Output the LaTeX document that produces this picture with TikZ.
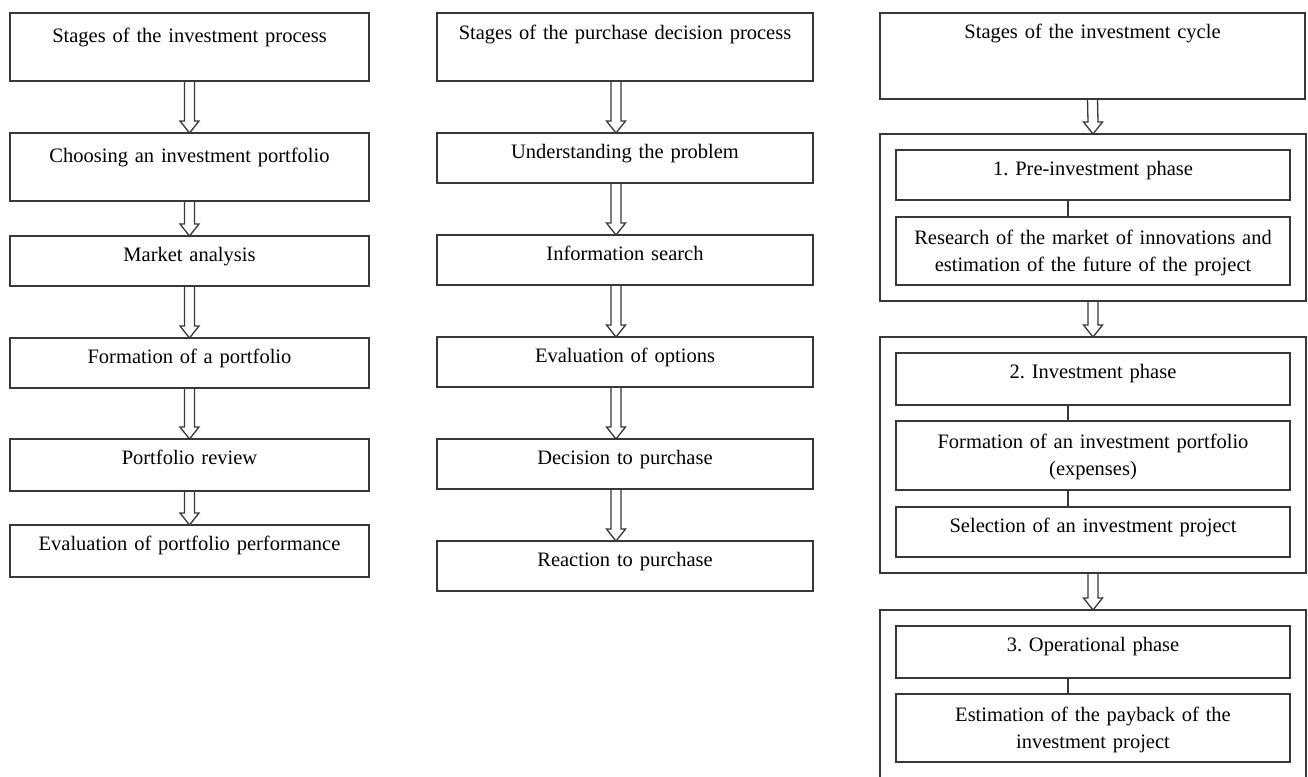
\documentclass[tikz,border=0pt]{standalone}
\usepackage{fontspec}
\setmainfont{Liberation Serif}
\usepackage{tikz}
\usetikzlibrary{positioning,fit}

\definecolor{boxgray}{HTML}{383838}
\newcommand\stagefont{\fontsize{20.5}{27}\selectfont\frenchspacing\spaceskip=0.2em plus 0.1em minus 0.05em\relax}
\tikzset{
  stage/.style={draw=boxgray,line width=1.4pt,outer sep=0pt,inner xsep=0pt,inner ysep=0pt,
    align=center,text=black,font=\stagefont},
  tall/.style={text height=29pt,text depth=39pt},
  short/.style={text height=25pt,text depth=25pt},
  twoline/.style={text height=27pt,text depth=41pt},
  frame/.style={draw=boxgray,line width=1.4pt,outer sep=0pt,inner sep=16pt},
  link/.style={draw=boxgray,line width=1.3pt}
}
% hollow block arrow from the bottom of #2 to the top of #3, shifted by #1
\newcommand\openarrow[3][0pt]{%
  \draw[link] ([xshift=#1-5pt]#2.south) -- ([xshift=#1-5pt,yshift=12pt]#3.north)
    -- ++(-4.5pt,0) -- ([xshift=#1]#3.north) -- ++(9.5pt,12pt) -- ++(-4.5pt,0)
    -- ([xshift=#1+5pt]#2.south);
}

\begin{document}
\begin{tikzpicture}[x=1pt,y=-1pt]
  \clip (0,0) rectangle (1308,776);
  \fill[white] (0,0) rectangle (1308,776);

  % investment process
  \node[stage,tall,text width=359pt,anchor=north] (proc1) at (189.5,13) {Stages of the investment process};
  \node[stage,tall,text width=359pt,below=52pt of proc1] (proc2) {Choosing an investment portfolio};
  \node[stage,short,text width=359pt,below=35pt of proc2] (proc3) {Market analysis};
  \node[stage,short,text width=359pt,below=52pt of proc3] (proc4) {Formation of a portfolio};
  \node[stage,short,text depth=27pt,text width=359pt,below=51pt of proc4] (proc5) {Portfolio review};
  \node[stage,short,text depth=27pt,text width=359pt,below=34pt of proc5] (proc6) {Evaluation of portfolio performance};
  \foreach \a/\b in {proc1/proc2,proc2/proc3,proc3/proc4,proc4/proc5,proc5/proc6}
    \openarrow{\a}{\b};

  % purchase decision process
  \begin{scope}[node distance=52pt]
    \node[stage,tall,text height=27pt,text depth=41pt,text width=376pt,anchor=north] (buy1) at (625,13) {Stages of the purchase decision process};
    \node[stage,short,text width=376pt,below=of buy1] (buy2) {Understanding the problem};
    \node[stage,short,text width=376pt,below=of buy2] (buy3) {Information search};
    \node[stage,short,text width=376pt,below=of buy3] (buy4) {Evaluation of options};
    \node[stage,short,text width=376pt,below=of buy4] (buy5) {Decision to purchase};
    \node[stage,short,text width=376pt,below=of buy5] (buy6) {Reaction to purchase};
  \end{scope}
  \foreach \a/\b in {buy1/buy2,buy2/buy3,buy3/buy4,buy4/buy5,buy5/buy6}
    \openarrow[-9pt]{\a}{\b};

  % investment cycle
  \node[stage,text height=26pt,text depth=60pt,text width=425pt,anchor=north] (cycle) at (1092.5,13) {Stages of the investment cycle};
  \node[stage,short,text width=394pt,anchor=north] (ph1) at (1093,150) {1. Pre-investment phase};
  \node[stage,twoline,text width=394pt,below=17pt of ph1] (ph1a) {Research of the market of innovations and\\estimation of the future of the project};
  \node[stage,short,text depth=27pt,text width=394pt,below=68pt of ph1a] (ph2) {2. Investment phase};
  \node[stage,twoline,text depth=42pt,text width=394pt,below=16pt of ph2] (ph2a) {Formation of an investment portfolio\\(expenses)};
  \node[stage,short,text width=394pt,below=17pt of ph2a] (ph2b) {Selection of an investment project};
  \node[stage,short,text depth=27pt,text width=394pt,below=69pt of ph2b] (ph3) {3. Operational phase};
  \node[stage,twoline,text width=394pt,below=16pt of ph3] (ph3a) {Estimation of the payback of the\\investment project};

  \node[frame,fit=(ph1)(ph1a)] (phase1) {};
  \node[frame,fit=(ph2)(ph2a)(ph2b)] (phase2) {};
  \node[frame,fit=(ph3)(ph3a)] (phase3) {};

  \foreach \a/\b in {ph1/ph1a,ph2/ph2a,ph2a/ph2b,ph3/ph3a}
    \draw[link] ([xshift=-25pt]\a.south) -- ([xshift=-25pt]\b.north);
  \foreach \a/\b in {cycle/phase1,phase1/phase2,phase2/phase3}
    \openarrow{\a}{\b};
\end{tikzpicture}
\end{document}
